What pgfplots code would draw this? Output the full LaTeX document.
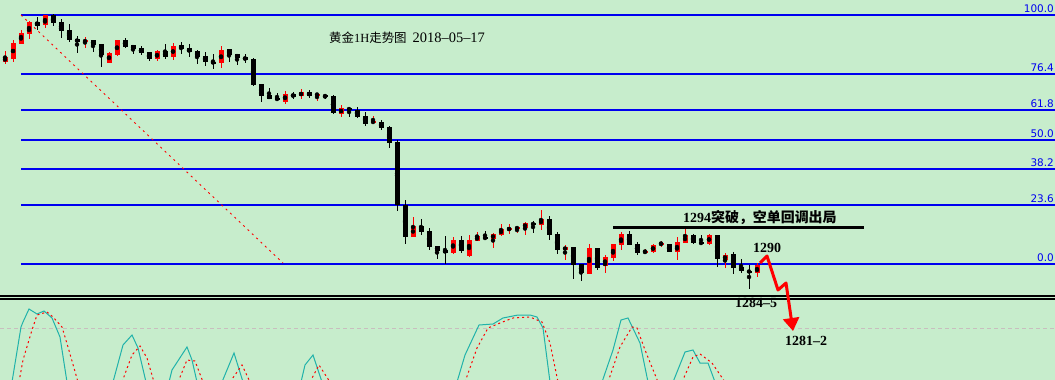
\documentclass[border=0pt]{standalone}
\usepackage{pgfplots}
\pgfplotsset{compat=1.18}
\usepackage{pgfplotstable}
\usepackage{fontspec}
\setmainfont{Liberation Serif}
\newfontfamily\cjk{Noto Sans CJK SC}
\newfontfamily\lab{DejaVu Sans}
\usetikzlibrary{arrows.meta}
\definecolor{bgc}{RGB}{199,237,204}
\definecolor{tealc}{RGB}{32,178,170}
\definecolor{fibblue}{RGB}{0,0,240}
\definecolor{grc}{RGB}{200,190,190}

% candles in chart pixel units: x, body top, body bottom, wick top, wick bottom
\pgfplotstableread{
x bt bb wt wb
5 57 62 51 64
13 43 59 40 62
21 33 44 30 44
29 22 34 21 39
45 15 25 15 28
85 40 42 37 48
109 53 63 52 63
117 40 55 40 56
157 51 59 50 61
173 46 57 43 60
221 50 63 46 68
285 94 102 91 104
301 92 96 89 99
317 94 95 93 101
341 108 114 105 117
373 121 123 116 124
413 226 237 217 237
453 240 253 237 254
469 240 256 235 257
477 236 241 232 241
493 234 239 233 248
501 229 235 224 236
509 228 230 224 234
517 227 229 227 233
525 223 228 222 235
541 219 225 210 230
565 247 250 245 260
589 248 274 244 274
605 257 266 255 273
613 244 258 244 261
621 234 245 232 250
645 251 253 249 254
653 245 252 244 253
661 243 244 241 247
677 242 252 237 260
685 235 243 229 243
709 235 244 234 245
725 255 260 253 268
757 265 273 263 277
}\redc

\pgfplotstableread{
x bt bb wt wb
37 22 26 17 30
53 15 23 14 26
61 22 31 19 38
69 30 40 24 42
77 39 42 36 53
93 40 45 40 52
101 44 55 44 67
125 40 47 38 48
133 45 49 45 54
141 48 53 46 55
149 52 59 52 61
165 51 57 44 59
181 45 49 42 54
189 48 52 44 57
197 51 57 50 64
205 56 62 52 66
213 62 63 54 69
229 49 55 49 62
237 54 58 54 65
245 57 60 54 63
253 59 85 58 86
261 84 96 84 102
269 95 99 88 99
277 98 100 93 101
293 94 97 92 99
309 92 96 90 98
325 95 97 94 99
333 96 113 95 114
349 108 110 107 117
357 110 117 107 118
365 116 124 112 126
381 122 128 120 130
389 127 143 126 148
397 142 205 140 211
405 205 237 200 244
421 226 232 219 235
429 231 247 228 250
437 246 251 246 259
445 250 253 236 264
461 240 251 236 253
485 237 239 231 240
533 223 225 221 233
549 219 235 216 240
557 234 250 232 254
573 247 265 247 279
581 264 273 264 281
597 248 268 248 270
629 234 245 231 245
637 244 253 242 255
669 244 252 244 252
693 235 243 234 244
701 242 244 235 245
717 235 259 235 267
733 254 268 252 274
741 267 271 259 273
749 271 272 265 289
}\blackc

\begin{document}
\begin{tikzpicture}
\begin{axis}[
  width=1055bp, height=380bp, scale only axis,
  xmin=0, xmax=1055, ymin=0, ymax=380, y dir=reverse,
  axis line style={draw=none}, xtick=\empty, ytick=\empty,
  axis background/.style={fill=bgc},
  clip=true,
]
% Fibonacci levels
\addplot[fibblue, line width=1.2bp] coordinates {(21,15) (1055,15)};
\addplot[fibblue, line width=1.2bp] coordinates {(21,74) (1055,74)};
\addplot[fibblue, line width=1.2bp] coordinates {(21,110) (1055,110)};
\addplot[fibblue, line width=1.2bp] coordinates {(21,140) (1055,140)};
\addplot[fibblue, line width=1.2bp] coordinates {(21,169) (1055,169)};
\addplot[fibblue, line width=1.2bp] coordinates {(21,205) (1055,205)};
\addplot[fibblue, line width=1.2bp] coordinates {(21,264) (1055,264)};
% diagonal
\addplot[red, line width=0.9bp, dash pattern=on 2bp off 4bp] coordinates {(21,15) (283,263)};
% panel separator
\addplot[black, line width=1.2bp] coordinates {(0,296) (1055,296)};
\addplot[black, line width=1.2bp] coordinates {(0,299) (1055,299)};
\addplot[grc, line width=1bp, dash pattern=on 4bp off 3bp] coordinates {(0,328) (1055,328)};
% candle wicks
\addplot[only marks, mark=none, error bars/.cd, y dir=both, y explicit, error mark=none,
  error bar style={draw=red, solid, line width=1bp}]
  table[x=x, y expr={(\thisrow{wt}+\thisrow{wb})/2}, y error expr={(\thisrow{wb}-\thisrow{wt})/2}] {\redc};
\addplot[only marks, mark=none, error bars/.cd, y dir=both, y explicit, error mark=none,
  error bar style={draw=black, solid, line width=1bp}]
  table[x=x, y expr={(\thisrow{wt}+\thisrow{wb})/2}, y error expr={(\thisrow{wb}-\thisrow{wt})/2}] {\blackc};
% candle bodies
\addplot[only marks, mark=none, error bars/.cd, y dir=both, y explicit, error mark=none,
  error bar style={draw=red, solid, line width=5bp}]
  table[x=x, y expr={(\thisrow{bt}+\thisrow{bb})/2}, y error expr={(\thisrow{bb}-\thisrow{bt})/2}] {\redc};
\addplot[only marks, mark=none, error bars/.cd, y dir=both, y explicit, error mark=none,
  error bar style={draw=black, solid, line width=5bp}]
  table[x=x, y expr={(\thisrow{bt}+\thisrow{bb})/2}, y error expr={(\thisrow{bb}-\thisrow{bt})/2}] {\blackc};
% resistance line
\addplot[black, line width=3.5bp] coordinates {(613,227.5) (864,227.5)};
% projected path
\addplot[red, line width=3bp, line join=round, -{Triangle[width=16bp,length=13bp]}]
  coordinates {(760,263) (767,256) (778,290) (786,283) (793,331)};
% stochastic oscillator
\addplot[tealc, line width=1bp] coordinates {(12,382)(21,327)(23,322)(29,309)(37,314)(44,311)(52,318)(60,337)(67,382)};
\addplot[red, line width=1bp, dash pattern=on 2bp off 3bp] coordinates {(19,382)(23,360)(32,330)(37,315)(47,312)(53,317)(62,327)(68,347)(78,382)};
\addplot[tealc, line width=1bp] coordinates {(113,382)(123,345)(132,335)(138,348)(146,382)};
\addplot[red, line width=1bp, dash pattern=on 2bp off 3bp] coordinates {(122,382)(132,355)(140,346)(147,358)(154,382)};
\addplot[tealc, line width=1bp] coordinates {(169,382)(172,370)(187,347)(192,360)(197,382)};
\addplot[red, line width=1bp, dash pattern=on 2bp off 3bp] coordinates {(178,382)(187,360)(195,361)(203,382)};
\addplot[tealc, line width=1bp] coordinates {(222,382)(234,353)(243,382)};
\addplot[red, line width=1bp, dash pattern=on 2bp off 3bp] coordinates {(230,382)(242,365)(250,382)};
\addplot[tealc, line width=1bp] coordinates {(301,382)(305,365)(313,355)(322,382)};
\addplot[red, line width=1bp, dash pattern=on 2bp off 3bp] coordinates {(310,382)(319,365)(330,382)};
\addplot[tealc, line width=1bp] coordinates {(457,382)(465,355)(479,325)(493,324)(503,318)(518,315)(530,315)(537,317)(543,328)(550,382)};
\addplot[red, line width=1bp, dash pattern=on 2bp off 3bp] coordinates {(465,382)(477,348)(488,328)(500,323)(513,318)(530,317)(542,322)(550,343)(558,382)};
\addplot[tealc, line width=1bp] coordinates {(602,382)(613,350)(621,320)(628,318)(640,343)(648,382)};
\addplot[red, line width=1bp, dash pattern=on 2bp off 3bp] coordinates {(608,382)(620,347)(632,327)(637,328)(645,350)(658,382)};
\addplot[tealc, line width=1bp] coordinates {(673,382)(685,352)(693,350)(700,363)(708,363)(715,382)};
\addplot[red, line width=1bp, dash pattern=on 2bp off 3bp] coordinates {(682,382)(693,357)(700,354)(712,363)(725,382)};
% texts
\node[anchor=base west, inner sep=0pt] at (axis cs:329,42) {\fontsize{12.5}{14}\selectfont{\cjk 黄金}1H{\cjk 走势图}\hspace{6bp}{\fontsize{14.5}{16}\selectfont 2018--05--17}};
\node[anchor=base west, inner sep=0pt] at (axis cs:683,222) {\fontsize{14}{16}\selectfont\bfseries 1294{\cjk 突破，空单回调出局}};
\node[anchor=base west, inner sep=0pt] at (axis cs:753,252) {\fontsize{14}{16}\selectfont\bfseries 1290};
\node[anchor=base west, inner sep=0pt] at (axis cs:735,307) {\fontsize{14}{16}\selectfont\bfseries 1284--5};
\node[anchor=base west, inner sep=0pt] at (axis cs:785,345) {\fontsize{14}{16}\selectfont\bfseries 1281--2};
\node[anchor=base east, inner sep=0pt, text=fibblue] at (axis cs:1054,12.5) {\lab\fontsize{10.5}{12}\selectfont 100.0};
\node[anchor=base east, inner sep=0pt, text=fibblue] at (axis cs:1054,71.5) {\lab\fontsize{10.5}{12}\selectfont 76.4};
\node[anchor=base east, inner sep=0pt, text=fibblue] at (axis cs:1054,107.5) {\lab\fontsize{10.5}{12}\selectfont 61.8};
\node[anchor=base east, inner sep=0pt, text=fibblue] at (axis cs:1054,137.5) {\lab\fontsize{10.5}{12}\selectfont 50.0};
\node[anchor=base east, inner sep=0pt, text=fibblue] at (axis cs:1054,166.5) {\lab\fontsize{10.5}{12}\selectfont 38.2};
\node[anchor=base east, inner sep=0pt, text=fibblue] at (axis cs:1054,202.5) {\lab\fontsize{10.5}{12}\selectfont 23.6};
\node[anchor=base east, inner sep=0pt, text=fibblue] at (axis cs:1054,261.5) {\lab\fontsize{10.5}{12}\selectfont 0.0};
\end{axis}
\end{tikzpicture}
\end{document}
